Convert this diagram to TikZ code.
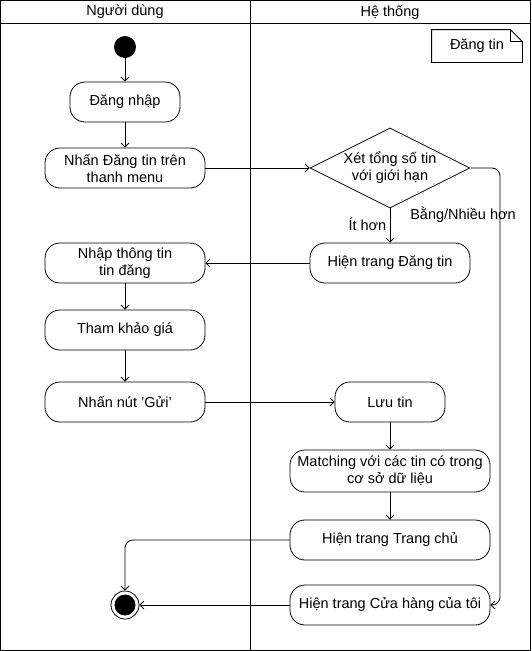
\documentclass[tikz,border=0pt]{standalone}
\usepackage{fontspec}
\setmainfont{Liberation Sans}
\usetikzlibrary{shapes.geometric,arrows.meta}
\begin{document}
\begin{tikzpicture}[
    x=1pt, y=-1pt,
    every node/.style={font=\fontsize{14.5}{17}\selectfont, align=center}, % same text size everywhere
    act/.style={draw, rounded corners=15pt, minimum height=40pt, inner sep=2pt},
    decide/.style={draw, diamond, aspect=2, minimum width=160pt, minimum height=80pt, inner sep=0pt},
    flow/.style={-{Straight Barb[length=4pt,width=8pt]}},
    line width=0.8pt
]
    \useasboundingbox (0,0) rectangle (531,651);
    % swimlanes
    \draw (0.5,0.5) rectangle (530.5,650.5);
    \draw (0.5,23) -- (530.5,23);
    \draw (250,0.5) -- (250,650.5);
    \node (laneuser) at (125,12) {Người dùng};
    \node (lanesys) at (390,12) {Hệ thống};

    % note
    \node (note) at (477,46) [minimum width=90pt, minimum height=32pt] {Đăng tin};
    \draw (note.north west) -- ([xshift=-12pt]note.north east) -- ([yshift=-12pt]note.north east)
        -- (note.south east) -- (note.south west) -- cycle;
    \draw ([xshift=-12pt]note.north east) -- ([xshift=-12pt,yshift=-12pt]note.north east) -- ([yshift=-12pt]note.north east);

    % user side
    \node (start) at (125,47) [circle, fill, minimum size=22pt, inner sep=0pt] {};
    \node (login) at (125,102) [act, minimum width=110pt] {Đăng nhập};
    \node (clickpost) at (125,168) [act, minimum width=160pt] {Nhấn Đăng tin trên\\thanh menu};
    \node (fill) at (125,263) [act, minimum width=160pt] {Nhập thông tin\\tin đăng};
    \node (price) at (125,330) [act, minimum width=160pt] {Tham khảo giá};
    \node (send) at (125,402) [act, minimum width=160pt] {Nhấn nút 'Gửi'};
    \node (stop) at (125,605) [circle, draw, minimum size=28pt, inner sep=0pt] {};
    \node (stopdot) at (125,605) [circle, fill, minimum size=21pt, inner sep=0pt] {};

    % system side
    \node (check) at (390,168) [decide] {Xét tổng số tin\\với giới hạn};
    \node (showpost) at (390,263) [act, minimum width=160pt] {Hiện trang Đăng tin};
    \node (save) at (390,402) [act, minimum width=110pt] {Lưu tin};
    \node (match) at (390,471) [act, minimum width=200pt, minimum height=42pt] {Matching với các tin có trong\\cơ sở dữ liệu};
    \node (home) at (390,540) [act, minimum width=200pt] {Hiện trang Trang chủ};
    \node (shop) at (390,605) [act, minimum width=200pt] {Hiện trang Cửa hàng của tôi};
    \coordinate (rturn) at (500,605);

    % flows
    \draw[flow] (start) -- (login);
    \draw[flow] (login) -- (clickpost);
    \draw[flow] (clickpost.east) -- (check.west);
    \draw[flow] (check.south) -- node[left, pos=0.45] {Ít hơn} (showpost.north);
    \draw[flow, rounded corners=8pt] (check.east) -| (rturn) -- (shop.east);
    \node (more) at (463,215) {Bằng/Nhiều hơn};
    \draw[flow] (showpost.west) -- (fill.east);
    \draw[flow] (fill) -- (price);
    \draw[flow] (price) -- (send);
    \draw[flow] (send.east) -- (save.west);
    \draw[flow] (save) -- (match);
    \draw[flow] (match) -- (home);
    \draw[flow, rounded corners=8pt] (home.west) -| (stop.north);
    \draw[flow] (shop.west) -- (stop.east);
\end{tikzpicture}
\end{document}
